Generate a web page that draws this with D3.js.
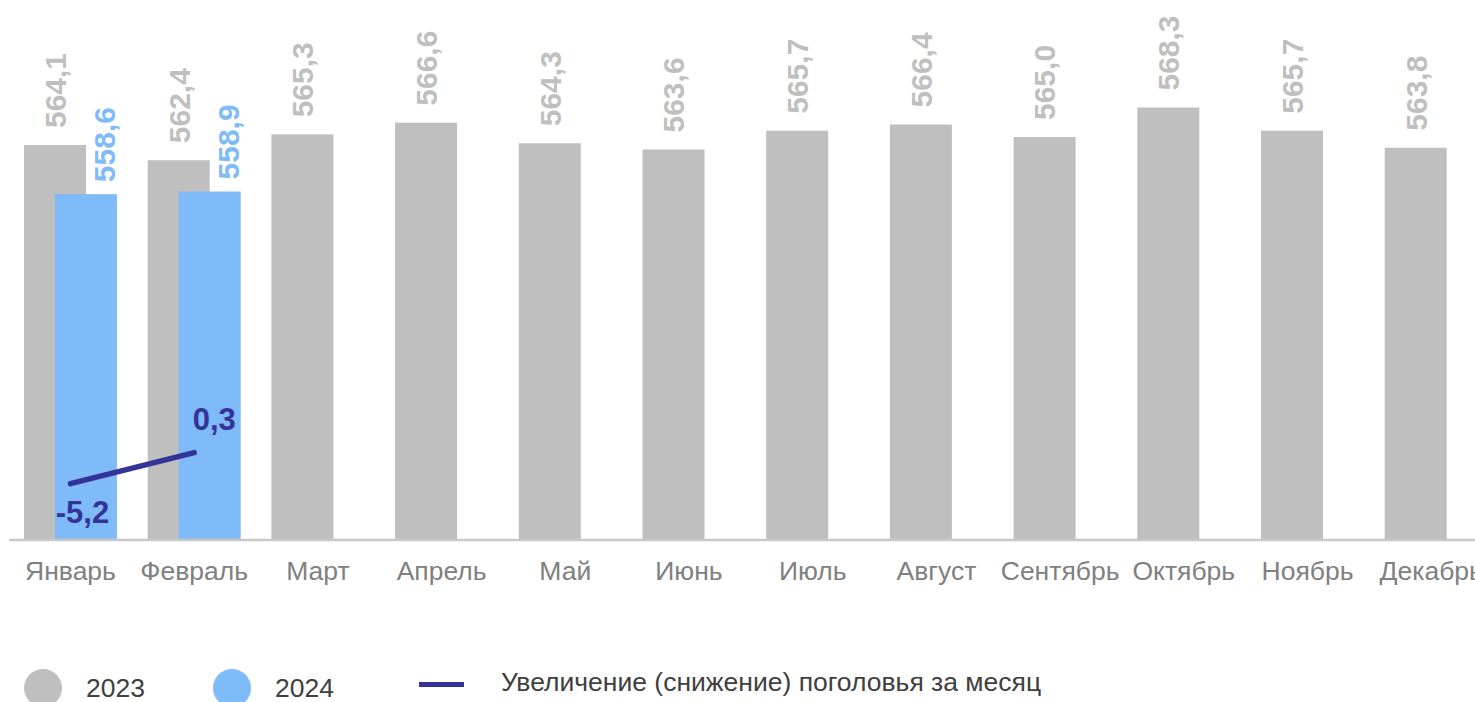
<!DOCTYPE html>
<html><head><meta charset="utf-8">
<script src="https://cdn.jsdelivr.net/npm/d3@7"></script>
<style>
html,body{margin:0;padding:0;background:#fff;overflow:hidden;}
svg{display:block;font-family:"Liberation Sans",Arial,sans-serif;}
</style></head>
<body>
<svg id="chart" width="1475" height="702"></svg>
<script>
const months = ["Январь","Февраль","Март","Апрель","Май","Июнь","Июль","Август","Сентябрь","Октябрь","Ноябрь","Декабрь"];
const values2023 = [564.1,562.4,565.3,566.6,564.3,563.6,565.7,566.4,565.0,568.3,565.7,563.8];
const values2024 = [558.6,558.9];
const change2024 = [-5.2,0.3];
const seriesNames = ["2023","2024","Увеличение (снижение) поголовья за месяц"];

const C_GRAY = "#BFBFBF", C_BLUE = "#7FBAF9", C_LINE = "#333399";
const svg = d3.select("#chart");
const fmt = v => d3.format(".1f")(v).replace(".", ",").replace("\u2212", "-");

const x = d3.scaleBand().domain(months).range([8.65, 8.65 + 123.7*12]).padding(0);
const step = x.bandwidth();
const barW = 62;
const y = d3.scaleLinear().domain([520, 580]).range([539, 3]);
const y2 = d3.scaleLinear().domain([-15, 80]).range([539, 3]);
const cx = m => x(m) + step/2;

// 2023 bars
svg.append("g").selectAll("rect").data(months).join("rect")
  .attr("x", m => cx(m) - 15.5 - barW/2)
  .attr("y", (m,i) => y(values2023[i]))
  .attr("width", barW)
  .attr("height", (m,i) => y(520) - y(values2023[i]))
  .attr("fill", C_GRAY);

// 2024 bars
svg.append("g").selectAll("rect").data(values2024).join("rect")
  .attr("x", (v,i) => cx(months[i]) + 15.5 - barW/2)
  .attr("y", v => y(v))
  .attr("width", barW)
  .attr("height", v => y(520) - y(v))
  .attr("fill", C_BLUE);

// 2023 labels
svg.append("g").selectAll("text").data(months).join("text")
  .attr("transform", (m,i) => `translate(${cx(m) - 15.5},${y(values2023[i]) - 17}) rotate(-90)`)
  .attr("dy", "0.36em")
  .attr("font-size", 30).attr("font-weight", "bold").attr("fill", C_GRAY)
  .text((m,i) => fmt(values2023[i]));

// 2024 labels
svg.append("g").selectAll("text").data(values2024).join("text")
  .attr("transform", (v,i) => `translate(${cx(months[i]) + 15.5 + 18},${y(v) - 12}) rotate(-90)`)
  .attr("dy", "0.36em")
  .attr("font-size", 30).attr("font-weight", "bold").attr("fill", C_BLUE)
  .text(v => fmt(v));

// axis
const axis = svg.append("g").attr("transform", "translate(0,539.5)")
  .call(d3.axisBottom(x).tickSize(0).tickPadding(22));
axis.select(".domain").attr("stroke", "#C8C8C8").attr("stroke-width", 2.5);
axis.selectAll("text").attr("font-size", 26.5).attr("fill", "#808080")
  .attr("font-family", "'Liberation Sans',Arial,sans-serif");

// change line
const line = d3.line().x((v,i) => cx(months[i])).y(v => y2(v));
svg.append("path").datum(change2024).attr("d", line)
  .attr("fill", "none").attr("stroke", C_LINE).attr("stroke-width", 5.5).attr("stroke-linecap", "round");

svg.append("g").selectAll("text").data(change2024).join("text")
  .attr("x", (v,i) => cx(months[i]) + (v < 0 ? 12 : 20))
  .attr("y", v => y2(v) + (v < 0 ? 39 : -23))
  .attr("text-anchor", "middle")
  .attr("font-size", 31).attr("font-weight", "bold").attr("fill", C_LINE)
  .text(v => fmt(v));

// legend
const lg = svg.append("g").attr("font-size", 26.5).attr("fill", "#404040");
lg.append("circle").attr("cx", 43).attr("cy", 688).attr("r", 19).attr("fill", C_GRAY);
lg.append("text").attr("x", 86).attr("y", 697).text(seriesNames[0]);
lg.append("circle").attr("cx", 232).attr("cy", 688).attr("r", 19).attr("fill", C_BLUE);
lg.append("text").attr("x", 275).attr("y", 697).text(seriesNames[1]);
lg.append("line").attr("x1", 419).attr("x2", 464).attr("y1", 684.5).attr("y2", 684.5)
  .attr("stroke", C_LINE).attr("stroke-width", 5);
lg.append("text").attr("x", 501).attr("y", 691).attr("font-size", 26.5).text(seriesNames[2]);
</script>
</body></html>
